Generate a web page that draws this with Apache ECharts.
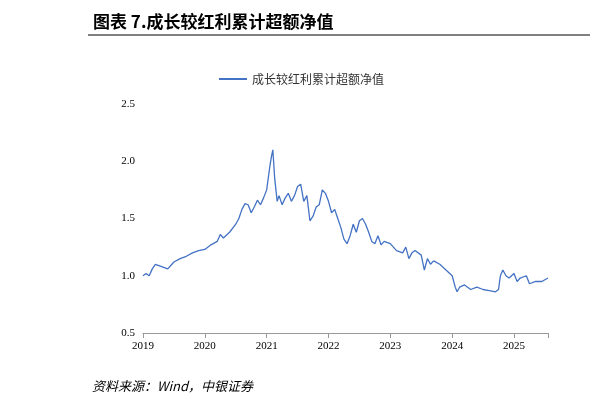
<!DOCTYPE html><html><head><meta charset="utf-8"><script src="https://cdn.jsdelivr.net/npm/echarts@6/dist/echarts.min.js"></script></head><body style="margin:0"><div id="c" style="width:603px;height:410px"></div><script>
const years=[2019.0,2019.05,2019.1,2019.15,2019.2,2019.3,2019.4,2019.5,2019.6,2019.7,2019.8,2019.9,2020.0,2020.1,2020.2,2020.25,2020.3,2020.4,2020.5,2020.55,2020.6,2020.65,2020.7,2020.75,2020.8,2020.85,2020.9,2020.95,2021.0,2021.05,2021.08,2021.1,2021.13,2021.17,2021.2,2021.25,2021.3,2021.35,2021.4,2021.45,2021.5,2021.55,2021.6,2021.65,2021.7,2021.75,2021.8,2021.85,2021.9,2021.95,2022.0,2022.05,2022.1,2022.15,2022.2,2022.25,2022.3,2022.35,2022.4,2022.45,2022.5,2022.55,2022.6,2022.65,2022.7,2022.75,2022.8,2022.85,2022.9,2023.0,2023.1,2023.2,2023.25,2023.3,2023.35,2023.4,2023.5,2023.55,2023.6,2023.65,2023.7,2023.8,2023.9,2024.0,2024.05,2024.08,2024.12,2024.2,2024.3,2024.4,2024.5,2024.6,2024.7,2024.75,2024.78,2024.82,2024.87,2024.92,2025.0,2025.05,2025.1,2025.2,2025.25,2025.35,2025.45,2025.55];
const values=[1.0,1.02,1.0,1.06,1.1,1.08,1.06,1.12,1.15,1.17,1.2,1.22,1.23,1.27,1.3,1.36,1.33,1.38,1.45,1.5,1.58,1.63,1.62,1.55,1.6,1.66,1.62,1.68,1.75,1.95,2.05,2.1,1.85,1.65,1.7,1.62,1.68,1.72,1.65,1.7,1.78,1.8,1.65,1.7,1.48,1.52,1.6,1.62,1.75,1.72,1.65,1.55,1.58,1.5,1.42,1.32,1.28,1.35,1.45,1.38,1.48,1.5,1.45,1.38,1.3,1.28,1.35,1.27,1.3,1.28,1.22,1.2,1.25,1.15,1.2,1.22,1.18,1.05,1.15,1.1,1.13,1.1,1.05,1.0,0.9,0.86,0.9,0.92,0.88,0.9,0.88,0.87,0.86,0.88,1.0,1.05,1.0,0.98,1.02,0.95,0.98,1.0,0.93,0.95,0.95,0.98];
const seriesName='成长较红利累计超额净值';
const ch=echarts.init(document.getElementById('c'));
ch.setOption({animation:false,
title:{text:'图表 7.成长较红利累计超额净值',left:88,top:8,textStyle:{fontSize:17,fontWeight:'bold',color:'#000',fontFamily:'Noto Sans CJK SC'}},
graphic:[{type:'line',shape:{x1:88,y1:35,x2:590,y2:35},style:{stroke:'#000',lineWidth:1}},
{type:'text',left:92,top:380,style:{text:'资料来源：Wind，中银证券',fontSize:13,fontStyle:'italic',fill:'#000',fontFamily:'Noto Sans CJK SC'}}],
legend:{top:68,left:'center',itemWidth:28,itemHeight:2,icon:'rect',textStyle:{fontSize:12,color:'#333',fontFamily:'Noto Sans CJK SC'}},
grid:{left:143,right:55,top:104,bottom:77},
xAxis:{type:'value',min:2019,max:2025.55,interval:1,axisLine:{lineStyle:{color:'#999'}},axisTick:{show:true,lineStyle:{color:'#999'}},splitLine:{show:false},axisLabel:{color:'#000',fontSize:11,fontFamily:'Liberation Serif',formatter:v=>Number.isInteger(v)?String(v):''}},
yAxis:{type:'value',min:0.5,max:2.5,interval:0.5,axisLine:{show:false},axisTick:{show:false},splitLine:{show:false},axisLabel:{color:'#000',fontSize:11,fontFamily:'Liberation Serif',formatter:v=>v.toFixed(1)}},
series:[{name:seriesName,type:'line',showSymbol:false,data:years.map((y,i)=>[y,values[i]]),lineStyle:{color:'#4472C4',width:1.3},itemStyle:{color:'#4472C4'}}]});
</script></body></html>
